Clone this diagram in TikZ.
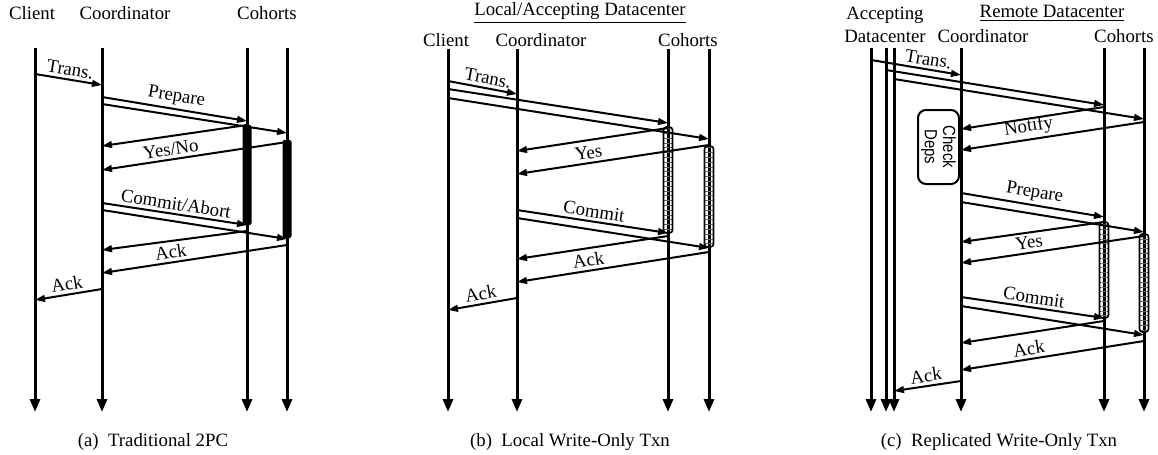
\documentclass[tikz,border=0pt]{standalone}
\usepackage{fontspec}
\setmainfont{Liberation Serif}
\newfontfamily\depsfont[FakeStretch=0.85]{Liberation Sans}
\usetikzlibrary{arrows.meta,patterns.meta}
\tikzset{
    life/.style={
        line width=1.5pt, -{Triangle[length=6.5pt,width=5pt]},
    },
    msg/.style={
        line width=1pt, -{Triangle[length=5pt,width=3.4pt]},
    },
    lbl/.style={
        above, sloped, inner sep=1.5pt,
    },
    lockbar/.style={
        fill=black, rounded corners=1pt,
    },
    ladder/.style={
        draw, line width=0.8pt, rounded corners=1.5pt,
        pattern={Lines[angle=0,distance=2.4pt,line width=0.4pt]},
        pattern color=black!60,
    },
    depsbox/.style={
        rectangle, draw, line width=1pt, rounded corners=4pt, rotate=-90,
        minimum width=37pt, minimum height=20.5pt, inner sep=0pt,
        align=center, font=\depsfont\fontsize{8.8}{9.2}\selectfont,
    },
}

\begin{document}
\begin{tikzpicture}[x=0.5pt,y=-0.5pt,font=\fontsize{9.4}{11.5}\selectfont]
                \useasboundingbox (0,0) rectangle (1158,455);
                % (a) traditional 2PC
                \node (aClT) at (32,13) {Client};
                \node (aCoT) at (125,13) {Coordinator};
                \node (aHT) at (267,13) {Cohorts};
                \node (aCap) at (153,442) {(a)\hspace{0.5em}Traditional 2PC};
                \coordinate (aCl) at (35,48);
                \coordinate (aCo) at (102,48);
                \coordinate (aH1) at (247,48);
                \coordinate (aH2) at (287,48);
                \draw[life] (aCl) -- (aCl |- 0,412);
                \draw[life] (aCo) -- (aCo |- 0,412);
                \draw[life] (aH1) -- (aH1 |- 0,412);
                \draw[life] (aH2) -- (aH2 |- 0,412);
                \fill[lockbar] ([xshift=-2.25pt]aH1 |- 0,125) rectangle ([xshift=2.25pt]aH1 |- 0,225);
                \fill[lockbar] ([xshift=-2.25pt]aH2 |- 0,140) rectangle ([xshift=2.25pt]aH2 |- 0,238);
                \draw[msg] (aCl |- 0,74) -- (aCo |- 0,85) node[lbl,midway] {Trans.};
                \draw[msg] (aCo |- 0,97) -- (aH1 |- 0,121) node[lbl,midway] {Prepare};
                \draw[msg] (aCo |- 0,104) -- (aH2 |- 0,133);
                \draw[msg] (aH1 |- 0,125) -- (aCo |- 0,146);
                \draw[msg] (aH2 |- 0,142) -- (aCo |- 0,170) node[lbl,pos=0.62] {Yes/No};
                \draw[msg] (aCo |- 0,203) -- (aH1 |- 0,225) node[lbl,midway] {Commit/Abort};
                \draw[msg] (aCo |- 0,210) -- (aH2 |- 0,239);
                \draw[msg] (aH1 |- 0,231) -- (aCo |- 0,250);
                \draw[msg] (aH2 |- 0,245) -- (aCo |- 0,273) node[lbl,pos=0.62] {Ack};
                \draw[msg] (aCo |- 0,289) -- (aCl |- 0,300) node[lbl,midway] {Ack};
                % (b) local write-only txn
                \node (bHead) at (580,13) {\underline{Local/Accepting Datacenter}};
                \node (bClT) at (446,40) {Client};
                \node (bCoT) at (541,40) {Coordinator};
                \node (bHT) at (688,40) {Cohorts};
                \node (bCap) at (570,442) {(b)\hspace{0.5em}Local Write-Only Txn};
                \coordinate (bCl) at (448,49);
                \coordinate (bCo) at (517,49);
                \coordinate (bH1) at (668,49);
                \coordinate (bH2) at (709,49);
                \draw[life] (bCl) -- (bCl |- 0,412);
                \draw[life] (bCo) -- (bCo |- 0,412);
                \draw[life] (bH1) -- (bH1 |- 0,412);
                \draw[life] (bH2) -- (bH2 |- 0,412);
                \draw[ladder] ([xshift=-2.25pt]bH1 |- 0,127) rectangle ([xshift=2.25pt]bH1 |- 0,233);
                \draw[ladder] ([xshift=-2.25pt]bH2 |- 0,146) rectangle ([xshift=2.25pt]bH2 |- 0,247);
                \draw[msg] (bCl |- 0,81) -- (bCo |- 0,94) node[lbl,pos=0.55] {Trans.};
                \draw[msg] (bCl |- 0,89) -- (bH1 |- 0,123);
                \draw[msg] (bCl |- 0,98) -- (bH2 |- 0,139);
                \draw[msg] (bH1 |- 0,128) -- (bCo |- 0,151);
                \draw[msg] (bH2 |- 0,145) -- (bCo |- 0,174) node[lbl,pos=0.62] {Yes};
                \draw[msg] (bCo |- 0,210) -- (bH1 |- 0,233) node[lbl,midway] {Commit};
                \draw[msg] (bCo |- 0,218) -- (bH2 |- 0,248);
                \draw[msg] (bH1 |- 0,236) -- (bCo |- 0,259);
                \draw[msg] (bH2 |- 0,252) -- (bCo |- 0,282) node[lbl,pos=0.62] {Ack};
                \draw[msg] (bCo |- 0,298) -- (bCl |- 0,310) node[lbl,midway] {Ack};
                % (c) replicated write-only txn
                \node[align=center] (cAccT) at (885,24.5) {Accepting\\Datacenter};
                \node (cHead) at (1052,13) {\underline{Remote Datacenter}};
                \node (cCoT) at (983,36) {Coordinator};
                \node (cHT) at (1124,36) {Cohorts};
                \node (cCap) at (999,442) {(c)\hspace{0.5em}Replicated Write-Only Txn};
                \node[depsbox] (cDeps) at (938.5,147) {Check\\Deps};
                \coordinate (cA1) at (871,48);
                \coordinate (cA2) at (886,48);
                \coordinate (cA3) at (894,48);
                \coordinate (cCo) at (961,48);
                \coordinate (cH1) at (1104,48);
                \coordinate (cH2) at (1144,48);
                \draw[life] (cA1) -- (cA1 |- 0,412);
                \draw[life] (cA2) -- (cA2 |- 0,412);
                \draw[life] (cA3) -- (cA3 |- 0,412);
                \draw[life] (cCo) -- (cCo |- 0,412);
                \draw[life] (cH1) -- (cH1 |- 0,412);
                \draw[life] (cH2) -- (cH2 |- 0,412);
                \draw[ladder] ([xshift=-2.25pt]cH1 |- 0,222) rectangle ([xshift=2.25pt]cH1 |- 0,318);
                \draw[ladder] ([xshift=-2.25pt]cH2 |- 0,234) rectangle ([xshift=2.25pt]cH2 |- 0,332);
                \draw[msg] (cA1 |- 0,60) -- (cCo |- 0,75) node[lbl,pos=0.62] {Trans.};
                \draw[msg] (cA2 |- 0,70) -- (cH1 |- 0,105);
                \draw[msg] (cA3 |- 0,79) -- (cH2 |- 0,119);
                \draw[msg] (cH1 |- 0,107) -- (cCo |- 0,129);
                \draw[msg] (cH2 |- 0,122) -- (cCo |- 0,150) node[lbl,pos=0.62] {Notify};
                \draw[msg] (cCo |- 0,193) -- (cH1 |- 0,217) node[lbl,midway] {Prepare};
                \draw[msg] (cCo |- 0,202) -- (cH2 |- 0,232);
                \draw[msg] (cH1 |- 0,222) -- (cCo |- 0,242);
                \draw[msg] (cH2 |- 0,236) -- (cCo |- 0,263) node[lbl,pos=0.62] {Yes};
                \draw[msg] (cCo |- 0,297) -- (cH1 |- 0,318) node[lbl,midway] {Commit};
                \draw[msg] (cCo |- 0,306) -- (cH2 |- 0,335);
                \draw[msg] (cH1 |- 0,321) -- (cCo |- 0,343);
                \draw[msg] (cH2 |- 0,341) -- (cCo |- 0,370) node[lbl,pos=0.62] {Ack};
                \draw[msg] (cCo |- 0,381) -- (cA3 |- 0,391) node[lbl,midway] {Ack};
            \end{tikzpicture}
\end{document}
